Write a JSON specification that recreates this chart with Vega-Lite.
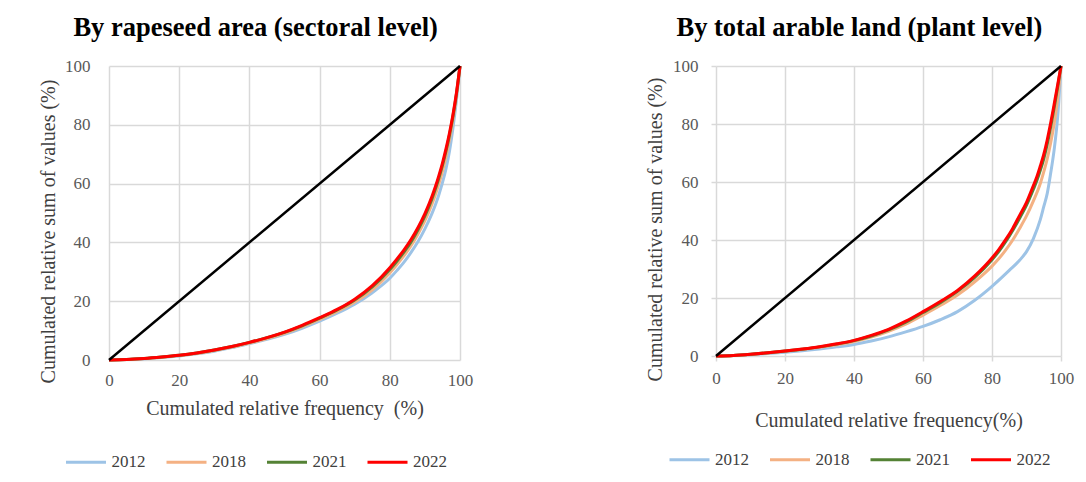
{
  "$schema": "https://vega.github.io/schema/vega-lite/v6.json",
  "background": "white",
  "padding": {"left": 38, "top": 14, "right": 5, "bottom": 5},
  "spacing": 172,
  "config": {
    "font": "Liberation Serif",
    "view": {"stroke": null},
    "axis": {
      "gridColor": "#D9D9D9", "gridWidth": 1.5, "domain": false,
      "tickColor": "#D9D9D9", "tickWidth": 1.5,
      "labelFont": "Liberation Serif", "labelFontSize": 17, "labelColor": "#595959",
      "labelFlush": false, "labelOverlap": false,
      "titleFont": "Liberation Serif", "titleFontSize": 20, "titleFontWeight": "normal", "titleColor": "#404040"
    },
    "title": {"font": "Liberation Serif", "fontSize": 26.5, "fontWeight": "bold", "color": "black", "frame": "bounds", "anchor": "middle"},
    "legend": {
      "symbolType": "stroke", "symbolSize": 1600, "symbolStrokeWidth": 3,
      "labelFont": "Liberation Serif", "labelFontSize": 17, "labelColor": "#404040",
      "labelOffset": 4, "columnPadding": 14.5, "padding": 0
    }
  },
  "datasets": {
    "eq": [{"x": 0, "y": 0}, {"x": 100, "y": 100}],
    "left": [
      {"year": "2012", "x": 0, "y": 0}, {"year": "2012", "x": 5, "y": 0.15}, {"year": "2012", "x": 10, "y": 0.45}, {"year": "2012", "x": 15, "y": 0.85}, {"year": "2012", "x": 20, "y": 1.4}, {"year": "2012", "x": 25, "y": 2.1}, {"year": "2012", "x": 30, "y": 3.0}, {"year": "2012", "x": 35, "y": 4.2}, {"year": "2012", "x": 40, "y": 5.6}, {"year": "2012", "x": 45, "y": 7.0}, {"year": "2012", "x": 50, "y": 8.7}, {"year": "2012", "x": 55, "y": 10.8}, {"year": "2012", "x": 60, "y": 13.2}, {"year": "2012", "x": 65, "y": 15.9}, {"year": "2012", "x": 70, "y": 19}, {"year": "2012", "x": 75, "y": 22.9}, {"year": "2012", "x": 80, "y": 27.8}, {"year": "2012", "x": 82, "y": 30.4}, {"year": "2012", "x": 84, "y": 33.2}, {"year": "2012", "x": 86, "y": 36.5}, {"year": "2012", "x": 88, "y": 40.2}, {"year": "2012", "x": 90, "y": 44.6}, {"year": "2012", "x": 92, "y": 49.8}, {"year": "2012", "x": 93, "y": 52.8}, {"year": "2012", "x": 94, "y": 56.3}, {"year": "2012", "x": 95, "y": 60.3}, {"year": "2012", "x": 96, "y": 65}, {"year": "2012", "x": 97, "y": 71}, {"year": "2012", "x": 98, "y": 79}, {"year": "2012", "x": 99, "y": 88.5}, {"year": "2012", "x": 100, "y": 100},
      {"year": "2018", "x": 0, "y": 0}, {"year": "2018", "x": 5, "y": 0.15}, {"year": "2018", "x": 10, "y": 0.5}, {"year": "2018", "x": 15, "y": 0.9}, {"year": "2018", "x": 20, "y": 1.5}, {"year": "2018", "x": 25, "y": 2.2}, {"year": "2018", "x": 30, "y": 3.2}, {"year": "2018", "x": 35, "y": 4.4}, {"year": "2018", "x": 40, "y": 5.8}, {"year": "2018", "x": 45, "y": 7.3}, {"year": "2018", "x": 50, "y": 9.1}, {"year": "2018", "x": 55, "y": 11.3}, {"year": "2018", "x": 60, "y": 13.8}, {"year": "2018", "x": 65, "y": 16.5}, {"year": "2018", "x": 70, "y": 19.7}, {"year": "2018", "x": 75, "y": 23.9}, {"year": "2018", "x": 80, "y": 29.6}, {"year": "2018", "x": 82, "y": 32.4}, {"year": "2018", "x": 84, "y": 35.4}, {"year": "2018", "x": 86, "y": 38.8}, {"year": "2018", "x": 88, "y": 42.8}, {"year": "2018", "x": 90, "y": 47.4}, {"year": "2018", "x": 92, "y": 53}, {"year": "2018", "x": 93, "y": 56.3}, {"year": "2018", "x": 94, "y": 60}, {"year": "2018", "x": 95, "y": 64.2}, {"year": "2018", "x": 96, "y": 69.2}, {"year": "2018", "x": 97, "y": 75}, {"year": "2018", "x": 98, "y": 81.8}, {"year": "2018", "x": 99, "y": 90}, {"year": "2018", "x": 100, "y": 100},
      {"year": "2021", "x": 0, "y": 0}, {"year": "2021", "x": 5, "y": 0.15}, {"year": "2021", "x": 10, "y": 0.5}, {"year": "2021", "x": 15, "y": 1.0}, {"year": "2021", "x": 20, "y": 1.6}, {"year": "2021", "x": 25, "y": 2.4}, {"year": "2021", "x": 30, "y": 3.4}, {"year": "2021", "x": 35, "y": 4.6}, {"year": "2021", "x": 40, "y": 6.0}, {"year": "2021", "x": 45, "y": 7.6}, {"year": "2021", "x": 50, "y": 9.4}, {"year": "2021", "x": 55, "y": 11.6}, {"year": "2021", "x": 60, "y": 14.2}, {"year": "2021", "x": 65, "y": 17.0}, {"year": "2021", "x": 70, "y": 20.4}, {"year": "2021", "x": 75, "y": 24.9}, {"year": "2021", "x": 80, "y": 30.8}, {"year": "2021", "x": 82, "y": 33.6}, {"year": "2021", "x": 84, "y": 36.7}, {"year": "2021", "x": 86, "y": 40.1}, {"year": "2021", "x": 88, "y": 44.2}, {"year": "2021", "x": 90, "y": 49}, {"year": "2021", "x": 92, "y": 54.8}, {"year": "2021", "x": 93, "y": 58.2}, {"year": "2021", "x": 94, "y": 62}, {"year": "2021", "x": 95, "y": 66.2}, {"year": "2021", "x": 96, "y": 71}, {"year": "2021", "x": 97, "y": 76.5}, {"year": "2021", "x": 98, "y": 82.9}, {"year": "2021", "x": 99, "y": 90.6}, {"year": "2021", "x": 100, "y": 100},
      {"year": "2022", "x": 0, "y": 0}, {"year": "2022", "x": 5, "y": 0.15}, {"year": "2022", "x": 10, "y": 0.5}, {"year": "2022", "x": 15, "y": 1.0}, {"year": "2022", "x": 20, "y": 1.6}, {"year": "2022", "x": 25, "y": 2.4}, {"year": "2022", "x": 30, "y": 3.4}, {"year": "2022", "x": 35, "y": 4.6}, {"year": "2022", "x": 40, "y": 6.0}, {"year": "2022", "x": 45, "y": 7.6}, {"year": "2022", "x": 50, "y": 9.5}, {"year": "2022", "x": 55, "y": 11.8}, {"year": "2022", "x": 60, "y": 14.4}, {"year": "2022", "x": 65, "y": 17.2}, {"year": "2022", "x": 70, "y": 20.7}, {"year": "2022", "x": 75, "y": 25.3}, {"year": "2022", "x": 80, "y": 31.4}, {"year": "2022", "x": 82, "y": 34.3}, {"year": "2022", "x": 84, "y": 37.4}, {"year": "2022", "x": 86, "y": 40.9}, {"year": "2022", "x": 88, "y": 45}, {"year": "2022", "x": 90, "y": 49.8}, {"year": "2022", "x": 92, "y": 55.6}, {"year": "2022", "x": 93, "y": 59}, {"year": "2022", "x": 94, "y": 62.8}, {"year": "2022", "x": 95, "y": 67}, {"year": "2022", "x": 96, "y": 71.8}, {"year": "2022", "x": 97, "y": 77.2}, {"year": "2022", "x": 98, "y": 83.5}, {"year": "2022", "x": 99, "y": 91}, {"year": "2022", "x": 100, "y": 100}
    ],
    "right": [
      {"year": "2012", "x": 0, "y": 0}, {"year": "2012", "x": 5, "y": 0.15}, {"year": "2012", "x": 10, "y": 0.45}, {"year": "2012", "x": 15, "y": 0.85}, {"year": "2012", "x": 20, "y": 1.3}, {"year": "2012", "x": 25, "y": 1.8}, {"year": "2012", "x": 30, "y": 2.4}, {"year": "2012", "x": 35, "y": 3.15}, {"year": "2012", "x": 40, "y": 4.0}, {"year": "2012", "x": 45, "y": 5.2}, {"year": "2012", "x": 50, "y": 6.6}, {"year": "2012", "x": 55, "y": 8.3}, {"year": "2012", "x": 60, "y": 10.2}, {"year": "2012", "x": 65, "y": 12.5}, {"year": "2012", "x": 70, "y": 15.3}, {"year": "2012", "x": 75, "y": 19.2}, {"year": "2012", "x": 80, "y": 24}, {"year": "2012", "x": 85, "y": 29.5}, {"year": "2012", "x": 88, "y": 33}, {"year": "2012", "x": 90, "y": 36}, {"year": "2012", "x": 92, "y": 40.5}, {"year": "2012", "x": 94, "y": 47}, {"year": "2012", "x": 95, "y": 51.5}, {"year": "2012", "x": 96, "y": 56}, {"year": "2012", "x": 97, "y": 63}, {"year": "2012", "x": 98, "y": 71}, {"year": "2012", "x": 99, "y": 82}, {"year": "2012", "x": 100, "y": 100},
      {"year": "2018", "x": 0, "y": 0}, {"year": "2018", "x": 5, "y": 0.2}, {"year": "2018", "x": 10, "y": 0.55}, {"year": "2018", "x": 15, "y": 1.05}, {"year": "2018", "x": 20, "y": 1.6}, {"year": "2018", "x": 25, "y": 2.25}, {"year": "2018", "x": 30, "y": 3.0}, {"year": "2018", "x": 35, "y": 3.9}, {"year": "2018", "x": 40, "y": 5.0}, {"year": "2018", "x": 45, "y": 6.5}, {"year": "2018", "x": 50, "y": 8.5}, {"year": "2018", "x": 55, "y": 11.0}, {"year": "2018", "x": 60, "y": 14.1}, {"year": "2018", "x": 65, "y": 17.4}, {"year": "2018", "x": 70, "y": 21.0}, {"year": "2018", "x": 75, "y": 25.6}, {"year": "2018", "x": 80, "y": 31.0}, {"year": "2018", "x": 82, "y": 33.6}, {"year": "2018", "x": 84, "y": 36.6}, {"year": "2018", "x": 86, "y": 40.0}, {"year": "2018", "x": 88, "y": 44.0}, {"year": "2018", "x": 90, "y": 48.3}, {"year": "2018", "x": 92, "y": 53.5}, {"year": "2018", "x": 94, "y": 59.5}, {"year": "2018", "x": 95, "y": 63.5}, {"year": "2018", "x": 96, "y": 68}, {"year": "2018", "x": 97, "y": 73.5}, {"year": "2018", "x": 98, "y": 80}, {"year": "2018", "x": 99, "y": 88.5}, {"year": "2018", "x": 100, "y": 100},
      {"year": "2021", "x": 0, "y": 0}, {"year": "2021", "x": 5, "y": 0.2}, {"year": "2021", "x": 10, "y": 0.6}, {"year": "2021", "x": 15, "y": 1.1}, {"year": "2021", "x": 20, "y": 1.7}, {"year": "2021", "x": 25, "y": 2.35}, {"year": "2021", "x": 30, "y": 3.15}, {"year": "2021", "x": 35, "y": 4.1}, {"year": "2021", "x": 40, "y": 5.3}, {"year": "2021", "x": 45, "y": 6.9}, {"year": "2021", "x": 50, "y": 9.0}, {"year": "2021", "x": 55, "y": 11.7}, {"year": "2021", "x": 60, "y": 15.0}, {"year": "2021", "x": 65, "y": 18.4}, {"year": "2021", "x": 70, "y": 22.3}, {"year": "2021", "x": 75, "y": 27.1}, {"year": "2021", "x": 80, "y": 33.2}, {"year": "2021", "x": 82, "y": 36.1}, {"year": "2021", "x": 84, "y": 39.5}, {"year": "2021", "x": 86, "y": 43.3}, {"year": "2021", "x": 88, "y": 47.5}, {"year": "2021", "x": 90, "y": 52}, {"year": "2021", "x": 92, "y": 57.5}, {"year": "2021", "x": 93, "y": 60.5}, {"year": "2021", "x": 94, "y": 64}, {"year": "2021", "x": 95, "y": 68}, {"year": "2021", "x": 96, "y": 73}, {"year": "2021", "x": 97, "y": 79}, {"year": "2021", "x": 98, "y": 85.5}, {"year": "2021", "x": 99, "y": 92.5}, {"year": "2021", "x": 100, "y": 100},
      {"year": "2022", "x": 0, "y": 0}, {"year": "2022", "x": 5, "y": 0.2}, {"year": "2022", "x": 10, "y": 0.6}, {"year": "2022", "x": 15, "y": 1.1}, {"year": "2022", "x": 20, "y": 1.7}, {"year": "2022", "x": 25, "y": 2.4}, {"year": "2022", "x": 30, "y": 3.2}, {"year": "2022", "x": 35, "y": 4.2}, {"year": "2022", "x": 40, "y": 5.4}, {"year": "2022", "x": 45, "y": 7.1}, {"year": "2022", "x": 50, "y": 9.2}, {"year": "2022", "x": 55, "y": 12.0}, {"year": "2022", "x": 60, "y": 15.3}, {"year": "2022", "x": 65, "y": 18.8}, {"year": "2022", "x": 70, "y": 22.6}, {"year": "2022", "x": 75, "y": 27.6}, {"year": "2022", "x": 80, "y": 33.8}, {"year": "2022", "x": 82, "y": 36.8}, {"year": "2022", "x": 84, "y": 40.2}, {"year": "2022", "x": 86, "y": 44}, {"year": "2022", "x": 88, "y": 48.5}, {"year": "2022", "x": 90, "y": 53}, {"year": "2022", "x": 92, "y": 58.8}, {"year": "2022", "x": 93, "y": 61.8}, {"year": "2022", "x": 94, "y": 65.5}, {"year": "2022", "x": 95, "y": 69.5}, {"year": "2022", "x": 96, "y": 74.5}, {"year": "2022", "x": 97, "y": 80.3}, {"year": "2022", "x": 98, "y": 86.7}, {"year": "2022", "x": 99, "y": 93.3}, {"year": "2022", "x": 100, "y": 100}
    ]
  },
  "resolve": {"scale": {"color": "independent"}, "legend": {"color": "independent"}},
  "hconcat": [
    {
      "width": 351,
      "height": 294,
      "title": {"text": "By rapeseed area (sectoral level)", "offset": -5, "baseline": "alphabetic"},
      "layer": [
        {
          "data": {"name": "left"},
          "mark": {"type": "line", "interpolate": "monotone", "strokeWidth": 3},
          "encoding": {
            "x": {"field": "x", "type": "quantitative", "scale": {"domain": [0, 100], "nice": false},
              "axis": {"values": [0, 20, 40, 60, 80, 100], "title": "Cumulated relative frequency\u00a0 (%)", "tickSize": 0, "labelPadding": 12, "titleY": 48.7, "titleBaseline": "middle"}},
            "y": {"field": "y", "type": "quantitative", "scale": {"domain": [0, 100], "nice": false},
              "axis": {"values": [0, 20, 40, 60, 80, 100], "title": "Cumulated relative sum of values (%)", "tickSize": 0, "labelPadding": 19, "titleX": -60.4, "titleY": 165, "titleBaseline": "middle"}},
            "color": {"field": "year", "type": "nominal",
              "scale": {"domain": ["2012", "2018", "2021", "2022"], "range": ["#9DC3E6", "#F4B183", "#548235", "#FF0000"]},
              "legend": {"title": null, "orient": "none", "direction": "horizontal", "legendX": -44.5, "legendY": 374.5}}
          }
        },
        {
          "data": {"name": "eq"},
          "mark": {"type": "line", "color": "black", "strokeWidth": 2.5},
          "encoding": {
            "x": {"field": "x", "type": "quantitative"},
            "y": {"field": "y", "type": "quantitative"}
          }
        }
      ]
    },
    {
      "width": 345,
      "height": 290,
      "title": {"text": "By total arable land (plant level)", "offset": -5, "baseline": "alphabetic"},
      "layer": [
        {
          "data": {"name": "right"},
          "mark": {"type": "line", "interpolate": "monotone", "strokeWidth": 3},
          "encoding": {
            "x": {"field": "x", "type": "quantitative", "scale": {"domain": [0, 100], "nice": false},
              "axis": {"values": [0, 20, 40, 60, 80, 100], "title": "Cumulated relative frequency(%)", "tickSize": 5, "labelPadding": 9.5, "titleY": 64, "titleBaseline": "middle"}},
            "y": {"field": "y", "type": "quantitative", "scale": {"domain": [0, 100], "nice": false},
              "axis": {"values": [0, 20, 40, 60, 80, 100], "title": "Cumulated relative sum of values (%)", "tickSize": 5, "labelPadding": 13, "titleX": -61, "titleY": 163, "titleBaseline": "middle"}},
            "color": {"field": "year", "type": "nominal",
              "scale": {"domain": ["2012", "2018", "2021", "2022"], "range": ["#9DC3E6", "#F4B183", "#548235", "#FF0000"]},
              "legend": {"title": null, "orient": "none", "direction": "horizontal", "legendX": -48, "legendY": 372}}
          }
        },
        {
          "data": {"name": "eq"},
          "mark": {"type": "line", "color": "black", "strokeWidth": 2.5},
          "encoding": {
            "x": {"field": "x", "type": "quantitative"},
            "y": {"field": "y", "type": "quantitative"}
          }
        }
      ]
    }
  ]
}
